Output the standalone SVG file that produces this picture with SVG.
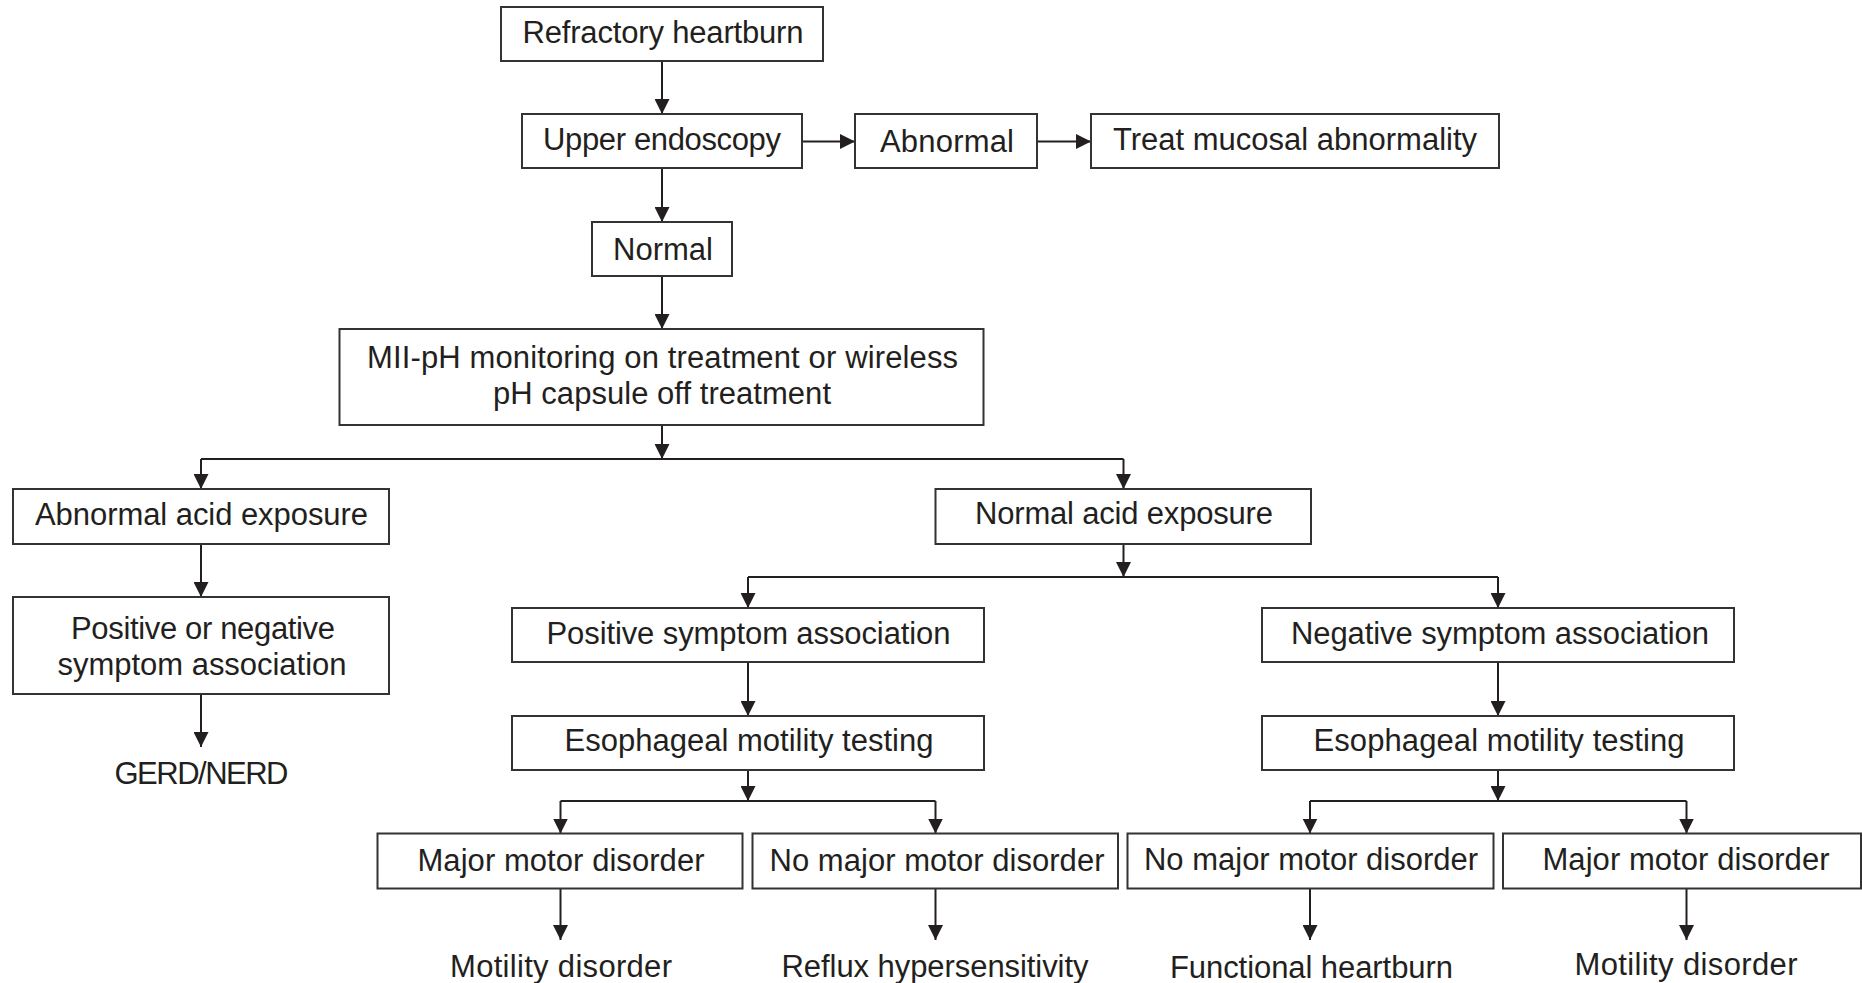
<svg xmlns="http://www.w3.org/2000/svg" width="1862" height="983" viewBox="0 0 1862 983">
<style>
.box{fill:#fff;stroke:#333;stroke-width:2}
.t{font-family:"Liberation Sans",Arial,sans-serif;font-size:31px;fill:#231f20;text-anchor:middle}
.c{fill:none;stroke:#231f20;stroke-width:2}
</style>
<defs>
<marker id="ah" markerUnits="userSpaceOnUse" markerWidth="15" markerHeight="15" refX="15" refY="7.5" orient="auto">
<path d="M0,0 L15,7.5 L0,15 z" fill="#231f20"/>
</marker>
</defs>
<rect width="1862" height="983" fill="#fff"/>
<g id="connectors">
<path class="c" d="M662,61 V114" marker-end="url(#ah)"/>
<path class="c" d="M802,141.5 H855" marker-end="url(#ah)"/>
<path class="c" d="M1037,141.5 H1091" marker-end="url(#ah)"/>
<path class="c" d="M662,168 V222" marker-end="url(#ah)"/>
<path class="c" d="M662,276 V329" marker-end="url(#ah)"/>
<path class="c" d="M662,425 V459" marker-end="url(#ah)"/>
<path class="c" d="M201,459 H1123.5"/>
<path class="c" d="M201,459 V489" marker-end="url(#ah)"/>
<path class="c" d="M1123.5,459 V489" marker-end="url(#ah)"/>
<path class="c" d="M201,544 V597" marker-end="url(#ah)"/>
<path class="c" d="M201,694 V747" marker-end="url(#ah)"/>
<path class="c" d="M1123.5,544 V577" marker-end="url(#ah)"/>
<path class="c" d="M748,577 H1498"/>
<path class="c" d="M748,577 V608" marker-end="url(#ah)"/>
<path class="c" d="M1498,577 V608" marker-end="url(#ah)"/>
<path class="c" d="M748,662 V716" marker-end="url(#ah)"/>
<path class="c" d="M1498,662 V716" marker-end="url(#ah)"/>
<path class="c" d="M748,770 V801" marker-end="url(#ah)"/>
<path class="c" d="M1498,770 V801" marker-end="url(#ah)"/>
<path class="c" d="M560.5,801 H935.5"/>
<path class="c" d="M1310,801 H1686.5"/>
<path class="c" d="M560.5,801 V833.5" marker-end="url(#ah)"/>
<path class="c" d="M935.5,801 V833.5" marker-end="url(#ah)"/>
<path class="c" d="M1310,801 V833.5" marker-end="url(#ah)"/>
<path class="c" d="M1686.5,801 V833.5" marker-end="url(#ah)"/>
<path class="c" d="M560.5,888.5 V940" marker-end="url(#ah)"/>
<path class="c" d="M935.5,888.5 V940" marker-end="url(#ah)"/>
<path class="c" d="M1310,888.5 V940" marker-end="url(#ah)"/>
<path class="c" d="M1686.5,888.5 V940" marker-end="url(#ah)"/>
</g>
<g id="refractory"><rect class="box" x="501" y="7" width="322" height="54"/><text class="t" x="663" y="43" textLength="281">Refractory heartburn</text></g>
<g id="endoscopy"><rect class="box" x="522" y="114" width="280" height="54"/><text class="t" x="662" y="150" textLength="238">Upper endoscopy</text></g>
<g id="abnormal"><rect class="box" x="855" y="114" width="182" height="54"/><text class="t" x="947" y="152" textLength="134">Abnormal</text></g>
<g id="treat"><rect class="box" x="1091" y="114" width="408" height="54"/><text class="t" x="1295" y="150" textLength="364">Treat mucosal abnormality</text></g>
<g id="normal"><rect class="box" x="592" y="222" width="140" height="54"/><text class="t" x="663" y="260" textLength="100">Normal</text></g>
<g id="mii"><rect class="box" x="339.5" y="329" width="644" height="96"/><text class="t" x="662.5" y="368" textLength="591">MII-pH monitoring on treatment or wireless</text><text class="t" x="662" y="404" textLength="338">pH capsule off treatment</text></g>
<g id="abnormal-acid"><rect class="box" x="13" y="489" width="376" height="55"/><text class="t" x="201.5" y="525" textLength="333">Abnormal acid exposure</text></g>
<g id="pos-neg"><rect class="box" x="13" y="597" width="376" height="97"/><text class="t" x="203" y="639" textLength="264">Positive or negative</text><text class="t" x="202" y="675" textLength="289">symptom association</text></g>
<g id="gerd"><text class="t" x="201.5" y="784" textLength="174">GERD/NERD</text></g>
<g id="normal-acid"><rect class="box" x="935.5" y="489" width="375.5" height="55"/><text class="t" x="1124" y="524" textLength="298">Normal acid exposure</text></g>
<g id="positive"><rect class="box" x="512" y="608" width="472" height="54"/><text class="t" x="748.5" y="644" textLength="404">Positive symptom association</text></g>
<g id="negative"><rect class="box" x="1262" y="608" width="472" height="54"/><text class="t" x="1500" y="644" textLength="418">Negative symptom association</text></g>
<g id="motility-left"><rect class="box" x="512" y="716" width="472" height="54"/><text class="t" x="749" y="751" textLength="369">Esophageal motility testing</text></g>
<g id="motility-right"><rect class="box" x="1262" y="716" width="472" height="54"/><text class="t" x="1499" y="751" textLength="371">Esophageal motility testing</text></g>
<g id="major-left"><rect class="box" x="377.5" y="833.5" width="365" height="55"/><text class="t" x="561" y="871" textLength="287">Major motor disorder</text></g>
<g id="nomajor-left"><rect class="box" x="752.5" y="833.5" width="365.5" height="55"/><text class="t" x="937" y="871" textLength="335">No major motor disorder</text></g>
<g id="nomajor-right"><rect class="box" x="1127.5" y="833.5" width="366" height="55"/><text class="t" x="1311" y="870" textLength="334">No major motor disorder</text></g>
<g id="major-right"><rect class="box" x="1503" y="833.5" width="358" height="55"/><text class="t" x="1686" y="870" textLength="287">Major motor disorder</text></g>
<g id="motility-disorder-left"><text class="t" x="561" y="977" textLength="222">Motility disorder</text></g>
<g id="reflux"><text class="t" x="935" y="977" textLength="307">Reflux hypersensitivity</text></g>
<g id="functional"><text class="t" x="1311.5" y="978" textLength="283">Functional heartburn</text></g>
<g id="motility-disorder-right"><text class="t" x="1686" y="975" textLength="223">Motility disorder</text></g>
</svg>
